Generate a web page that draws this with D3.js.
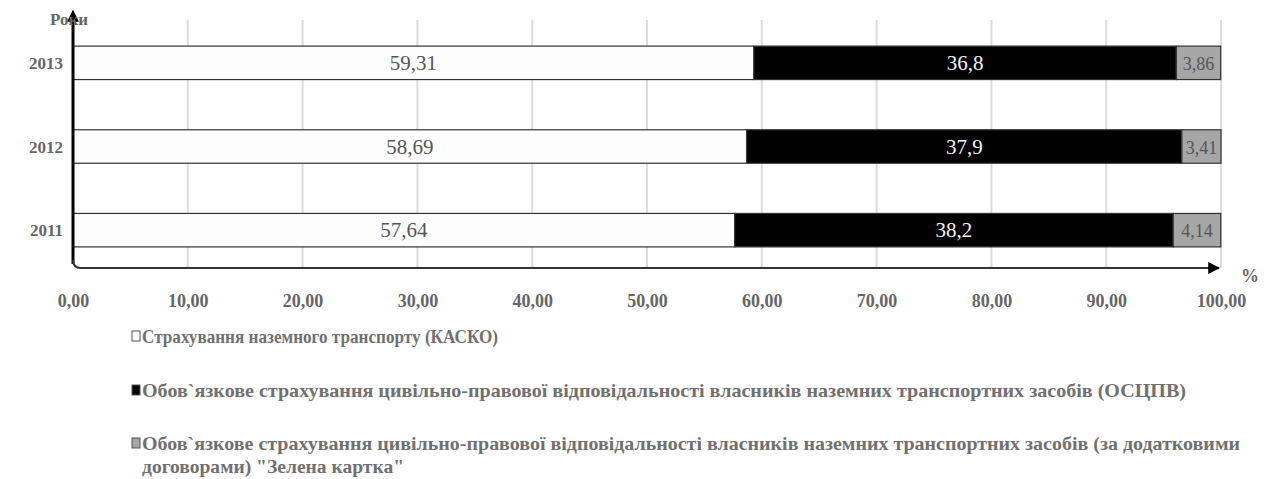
<!DOCTYPE html>
<html>
<head>
<meta charset="utf-8">
<script src="https://cdn.jsdelivr.net/npm/d3@7"></script>
<style>
  html, body { margin: 0; padding: 0; background: #fff; }
  svg { display: block; }
  svg text { font-family: "Liberation Serif", "Times New Roman", serif; }
</style>
</head>
<body>
<svg id="chart" width="1266" height="479"></svg>
<script>
// Structure of land-transport insurance premiums, %
const years = ["2013", "2012", "2011"];
const kasko = [59.31, 58.69, 57.64];
const oscpv = [36.8, 37.9, 38.2];
const greenCard = [3.86, 3.41, 4.14];
const xTicks = [0, 10, 20, 30, 40, 50, 60, 70, 80, 90, 100];
const seriesNames = [
  "Страхування  наземного транспорту  (КАСКО)",
  "Обов`язкове страхування цивільно-правової відповідальності власників наземних  транспортних  засобів (ОСЦПВ)",
  "Обов`язкове страхування цивільно-правової відповідальності власників наземних  транспортних  засобів (за додатковими",
  "договорами) \"Зелена картка\""
];

const FONT = "Liberation Serif";
const svg = d3.select("#chart");
const fmt = v => d3.format(".2f")(v).replace(".", ",");
const lbl = v => String(v).replace(".", ",");

const x = d3.scaleLinear().domain([0, 100]).range([73, 1221]);
const y = d3.scaleBand().domain(years).range([21, 272]).paddingInner(0.6).paddingOuter(0.3);
const axisY = 268;

// gridlines
svg.append("g").selectAll("line").data(xTicks.slice(1)).join("line")
  .attr("x1", d => x(d)).attr("x2", d => x(d))
  .attr("y1", 20).attr("y2", axisY)
  .attr("stroke", "#dcdcdc").attr("stroke-width", 2);

// stacked segments
const rows = years.map((yr, i) => ({ yr, vals: [kasko[i], oscpv[i], greenCard[i]] }));
const fills = ["#fdfdfd", "#000000", "#a6a6a6"];
const textCol = ["#555555", "#f4f4f4", "#555555"];
const segs = [];
rows.forEach(r => {
  let acc = 0;
  r.vals.forEach((v, k) => { segs.push({ yr: r.yr, x0: acc, x1: acc + v, v, k }); acc += v; });
});

const g = svg.append("g");
g.selectAll("rect").data(segs).join("rect")
  .attr("x", d => x(d.x0)).attr("y", d => y(d.yr))
  .attr("width", d => x(d.x1) - x(d.x0)).attr("height", y.bandwidth())
  .attr("fill", d => fills[d.k])
  .attr("stroke", "#333").attr("stroke-width", 1.2);

g.selectAll("text").data(segs).join("text")
  .attr("x", d => (x(d.x0) + x(d.x1)) / 2)
  .attr("y", d => y(d.yr) + y.bandwidth() / 2 + 7)
  .attr("text-anchor", "middle")
  .attr("font-family", FONT)
  .attr("font-size", d => d.k === 2 ? 18 : 21)
  .attr("fill", d => textCol[d.k])
  .text(d => lbl(d.v));

// axes
svg.append("defs").html(`
  <marker id="arr" viewBox="0 0 10 10" refX="9" refY="5" markerWidth="6" markerHeight="6" orient="auto">
    <path d="M0,0 L10,5 L0,10 z" fill="#000"/>
  </marker>`);

// vertical axis, heavier between the bars
svg.append("path")
  .attr("d", `M${x(0)},${axisY - 4} L${x(0)},22`)
  .attr("stroke", "#000").attr("stroke-width", 3).attr("fill", "none");
svg.append("path")
  .attr("d", `M${x(0)},30 L${x(0)},11`)
  .attr("stroke", "#000").attr("stroke-width", 2).attr("marker-end", "url(#arr)");
// horizontal axis with rounded corner
svg.append("path")
  .attr("d", `M${x(0)},${axisY - 8} Q${x(0)},${axisY} ${x(0) + 8},${axisY} L${x(100) - 2},${axisY}`)
  .attr("stroke", "#333").attr("stroke-width", 2).attr("fill", "none").attr("marker-end", "url(#arr)");

// tick labels via axis generator
const xa = d3.axisBottom(x).tickValues(xTicks).tickFormat(fmt).tickSize(0).tickPadding(0);
const ax = svg.append("g").attr("transform", `translate(0,${axisY + 39})`).call(xa);
ax.select(".domain").remove();
ax.attr("font-family", FONT);
ax.selectAll("text").attr("font-size", 18).attr("font-weight", "bold")
  .attr("fill", "#666").attr("font-family", FONT).attr("dy", 0);

// year labels
svg.append("g").selectAll("text").data(years).join("text")
  .attr("x", 63).attr("y", d => y(d) + y.bandwidth() / 2 + 6)
  .attr("text-anchor", "end").attr("font-family", FONT).attr("font-size", 17).attr("font-weight", "bold")
  .attr("fill", "#666").text(d => d);

// axis titles
svg.append("text").attr("x", 50).attr("y", 25).attr("font-family", FONT).attr("font-size", 17).attr("font-weight", "bold")
  .attr("fill", "#666").text("Роки");
svg.append("text").attr("x", 1241).attr("y", 282).attr("font-family", FONT).attr("font-size", 18).attr("font-weight", "bold")
  .attr("fill", "#666").text("%");

// legend
const leg = svg.append("g");
const legItems = [
  { k: 0, y: 343, text: seriesNames[0], w: 356 },
  { k: 1, y: 397, text: seriesNames[1], w: 1044 },
  { k: 2, y: 450, text: seriesNames[2], w: 1098 }
];
legItems.forEach(it => {
  leg.append("rect").attr("x", 132).attr("y", it.y - 12).attr("width", 8).attr("height", 10)
    .attr("fill", fills[it.k]).attr("stroke", "#555").attr("stroke-width", 1);
  leg.append("text").attr("x", 142).attr("y", it.y).attr("font-family", FONT).attr("font-size", 19).attr("font-weight", "bold")
    .attr("fill", "#707070").attr("textLength", it.w).attr("lengthAdjust", "spacingAndGlyphs")
    .text(it.text);
});
leg.append("text").attr("x", 142).attr("y", 473).attr("font-family", FONT).attr("font-size", 19).attr("font-weight", "bold")
  .attr("fill", "#707070").attr("textLength", 262).attr("lengthAdjust", "spacingAndGlyphs")
  .text(seriesNames[3]);
</script>
</body>
</html>
